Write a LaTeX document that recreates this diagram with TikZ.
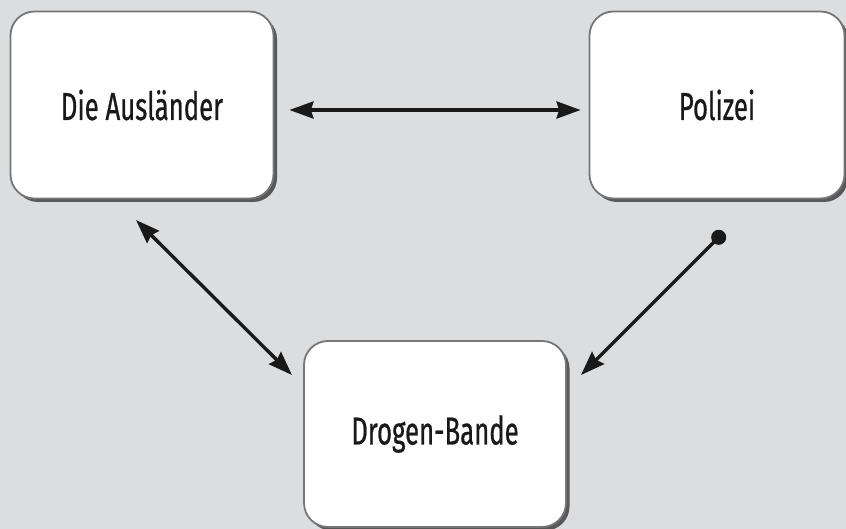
\documentclass[tikz,border=0pt]{standalone}
\usepackage{fontspec}
\newfontfamily\boxfont{Fira Sans}[FakeStretch=0.66,FakeBold=0.6]
\usepackage{tikz}
\usetikzlibrary{arrows.meta}
\usetikzlibrary{shadows}

\definecolor{bgray}{RGB}{220,221,223}
\definecolor{edgegray}{RGB}{118,118,120}

\tikzset{
  box/.style={draw=edgegray, line width=1.8pt, rounded corners=24pt, fill=white,
    drop shadow={shadow xshift=3.5pt, shadow yshift=-3.5pt, fill=black, opacity=0.6},
    font=\boxfont\fontsize{39}{39}\selectfont, text=black!90},
  conn/.style={line width=3.4pt, black!90},
  tip/.style={Stealth[length=24pt,width=17pt,inset=2.5pt]}
}

\begin{document}
\begin{tikzpicture}[x=1pt,y=-1pt]
    \fill[bgray] (0,0) rectangle (846,529);
    \useasboundingbox (0,0) rectangle (846,529);

    \node[box, minimum width=263pt, minimum height=187pt] (aus) at (142,105) {Die Ausländer};
    \node[box, minimum width=255pt, minimum height=187pt] (pol) at (717,105) {Polizei};
    \node[box, minimum width=262pt, minimum height=186pt] (drog) at (435,434) {Drogen-Bande};

    \coordinate (a1) at (136,220);
    \coordinate (a2) at (292,375);
    \coordinate (p1) at (724,232);
    \coordinate (p2) at (581,375);

    \draw [conn, {Stealth[length=24pt,width=17pt,inset=2.5pt]}-{Stealth[length=24pt,width=17pt,inset=2.5pt]}]
        ([xshift=15pt,yshift=-5pt]aus.east) -- ([xshift=-8pt,yshift=-5pt]pol.west); %横
    \draw [conn, {Stealth[length=24pt,width=17pt,inset=2.5pt]}-{Stealth[length=24pt,width=17pt,inset=2.5pt]}]
        (a1) -- (a2);
    \draw [conn, {Circle[length=15pt]}-{Stealth[length=24pt,width=17pt,inset=2.5pt]}]
        (p1) -- (p2);
\end{tikzpicture}
\end{document}
